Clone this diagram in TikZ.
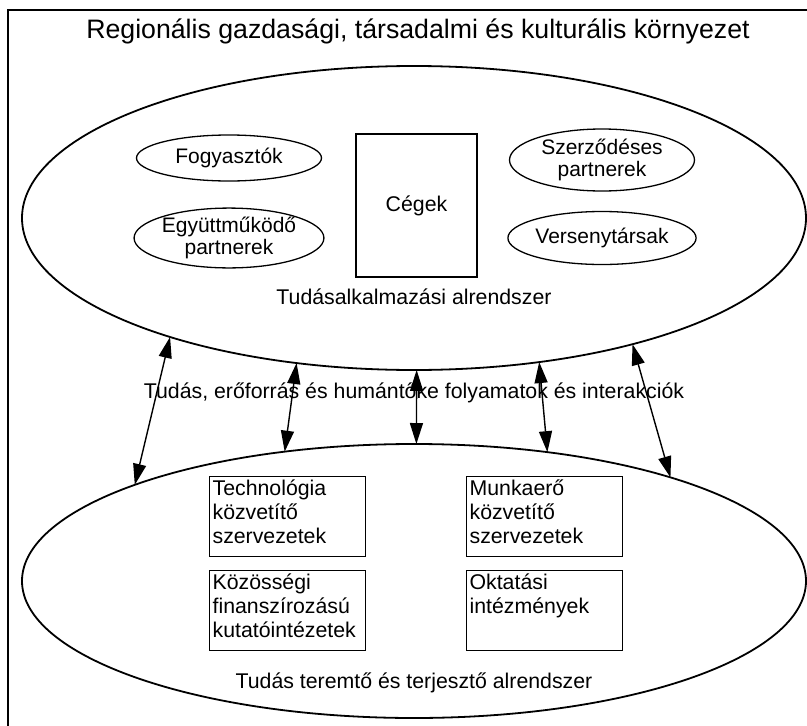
\documentclass[tikz,border=0pt]{standalone}
\usepackage{fontspec}
\setmainfont{Liberation Sans}
\usetikzlibrary{shapes.geometric,arrows.meta}
\begin{document}
\begin{tikzpicture}[x=1pt,y=-1pt,
  big/.style={draw,ellipse,line width=1.8pt,minimum width=784pt,inner sep=0pt,outer sep=0pt},
  small/.style={draw,ellipse,line width=1.3pt,minimum width=185pt,inner sep=0pt,align=center,font=\fontsize{21}{22.5}\selectfont},
  boxnode/.style={draw,rectangle,line width=1.2pt,inner sep=3pt,anchor=north west,font=\fontsize{21.3}{24}\selectfont},
  lbl/.style={font=\fontsize{21.3}{24}\selectfont,inner sep=0pt},
  arr/.style={{Triangle[length=21pt,width=13pt]}-{Triangle[length=21pt,width=13pt]},line width=1.4pt}
]
\useasboundingbox (0,0) rectangle (807,726);
% frame
\draw[line width=2.5pt] (8,726) -- (8,10) -- (807,10);
\node[font=\fontsize{26.7}{30}\selectfont] (title) at (418,31) {Regionális gazdasági, társadalmi és kulturális környezet};
% top ellipse
\node[big,minimum height=304pt] (top) at (414,218) {};
\node[small,minimum height=46pt] (fogy) at (229,158) {Fogyasztók};
\node[small,minimum height=58pt] (egy) at (229,238) {Együttműködő\\partnerek};
\node[small,minimum height=62pt] (szer) at (602,160) {Szerződéses\\partnerek};
\node[small,minimum height=53pt] (vers) at (602,238) {Versenytársak};
\node[draw,rectangle,line width=1.2pt,minimum width=121pt,minimum height=143pt,font=\fontsize{21.3}{24}\selectfont] (ceg) at (416.5,205.5) {Cégek};
\node[lbl] (tal) at (414,297) {Tudásalkalmazási alrendszer};
% bottom ellipse
\node[big,minimum height=274pt] (bot) at (414,581) {};
\node[boxnode] (tech) at (209,476) {\parbox[c][74pt][t]{150pt}{\raggedright Technológia\\ közvetítő\\ szervezetek}};
\node[boxnode] (koz) at (209,570) {\parbox[c][74pt][t]{150pt}{\raggedright Közösségi\\ finanszírozású\\ kutatóintézetek}};
\node[boxnode] (munk) at (466,476) {\parbox[c][74pt][t]{150pt}{\raggedright Munkaerő\\ közvetítő\\ szervezetek}};
\node[boxnode] (okt) at (466,570) {\parbox[c][74pt][t]{150pt}{\raggedright Oktatási\\ intézmények}};
\node[lbl] (ttt) at (414,683) {Tudás teremtő és terjesztő alrendszer};
% arrows
\draw[arr] (top.-154.7) -- (bot.161.9);
\draw[arr] (top.-129.1) -- (bot.135.4);
\draw[arr] (top.-89.5) -- (bot.89.5);
\draw[arr] (top.-49.3) -- (bot.44.3);
\draw[arr] (top.-30.3) -- (bot.22.7);
\node[lbl] (mid) at (414,393) {Tudás, erőforrás és humántőke folyamatok és interakciók};
\end{tikzpicture}
\end{document}
